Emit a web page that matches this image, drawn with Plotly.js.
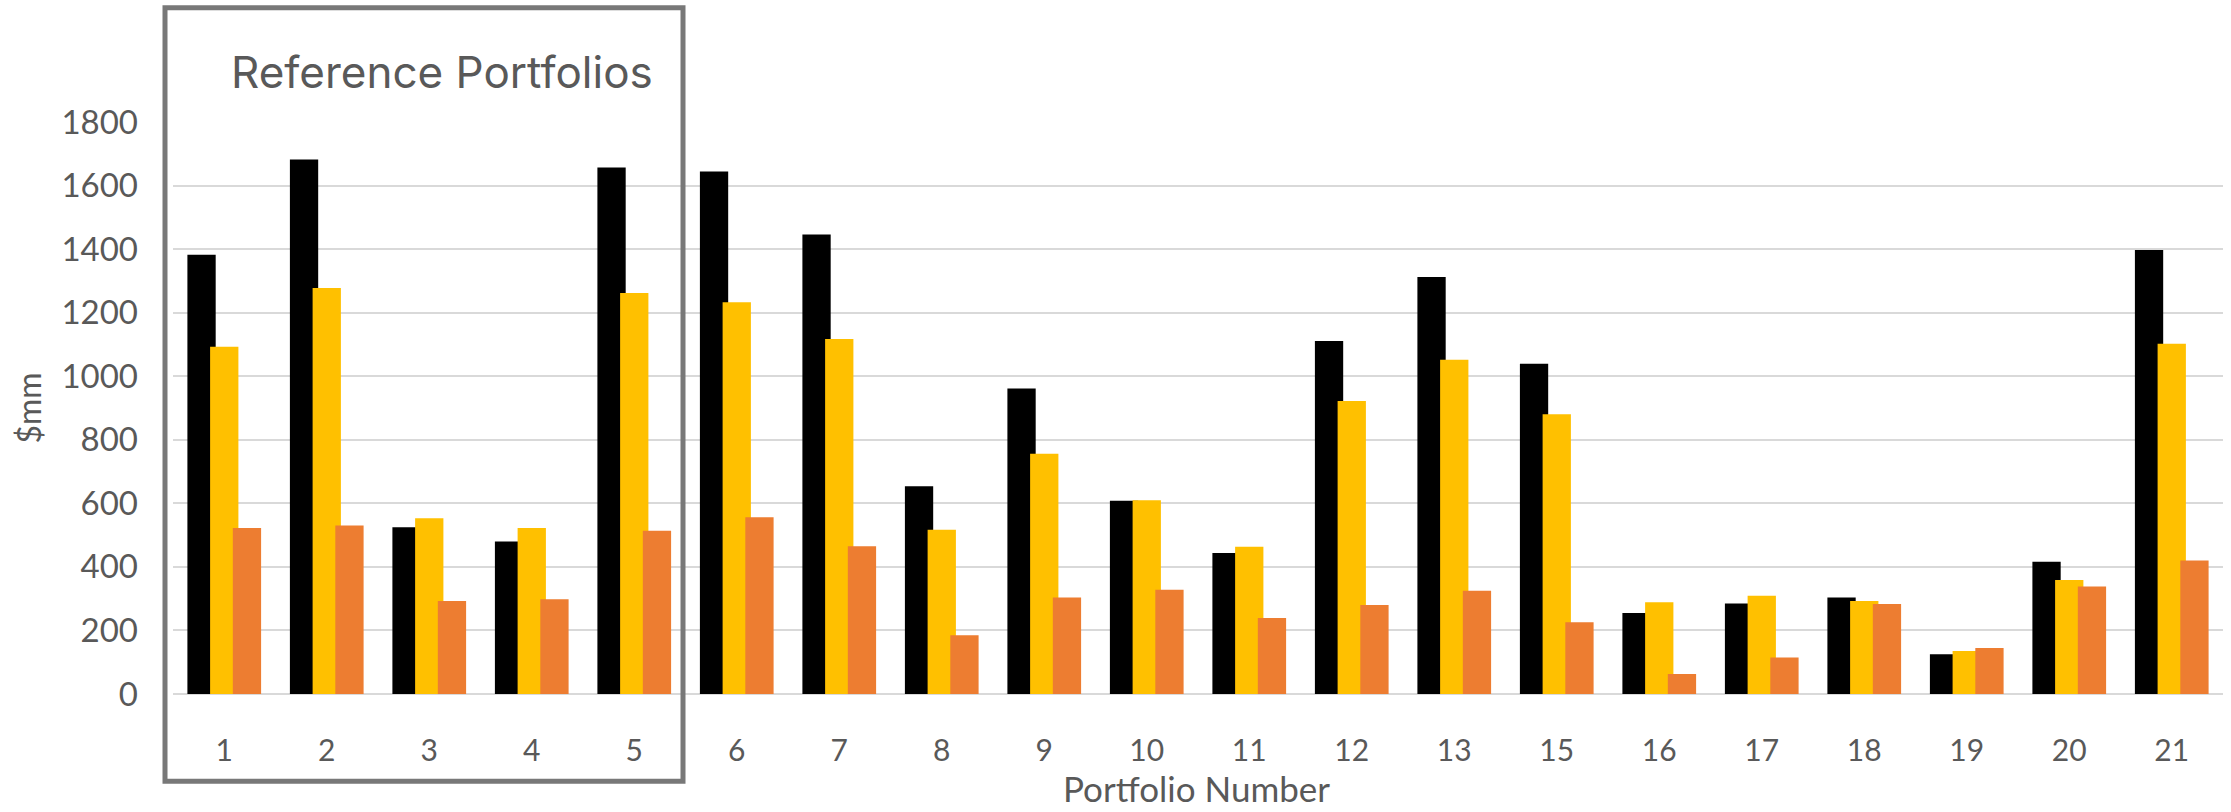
<!DOCTYPE html>
<html>
<head>
<meta charset="utf-8">
<script src="https://cdn.plot.ly/plotly-3.0.1.min.js"></script>
<style>
  html, body { margin: 0; padding: 0; background: #ffffff; }
  #chart { width: 2231px; height: 812px; }
</style>
</head>
<body>
<div id="chart"></div>
<script>
// Category labels (portfolio numbers; note 14 is absent)
const portfolios = ['1','2','3','4','5','6','7','8','9','10','11','12','13','15','16','17','18','19','20','21'];

// Series values ($mm)
const seriesBlack  = [1382, 1682, 525, 480, 1657, 1644, 1446, 654, 961, 608, 444, 1111, 1312, 1039, 255, 285, 304, 125, 416, 1397];
const seriesYellow = [1093, 1278, 553, 522, 1262, 1233, 1117, 517, 756, 610, 463,  922, 1052,  880, 289, 309, 293, 135, 359, 1102];
const seriesOrange = [ 522,  530, 293, 298,  514,  556,  465, 185, 304, 328, 239,  280,  325,  226,  63, 115, 283, 145, 338,  420];

// Y tick values
const yTicks = [0, 200, 400, 600, 800, 1000, 1200, 1400, 1600, 1800];

const W = 2231, H = 812;
const margin = { l: 173, r: 8, t: 121.5, b: 117.5 };
const plotW = W - margin.l - margin.r;
const plotH = H - margin.t - margin.b;

// Excel-style overlapped clustered bars (20% overlap)
const barW = 0.276;
const step = 0.2215;
const start = -(2 * step + barW) / 2;

function barTrace(name, values, color, idx) {
  return {
    type: 'bar',
    name: name,
    x: portfolios,
    y: values,
    width: barW,
    offset: start + idx * step,
    marker: { color: color, line: { width: 0 } },
    hoverinfo: 'x+y+name'
  };
}

const data = [
  barTrace('Series 1', seriesBlack,  '#000000', 0),
  barTrace('Series 2', seriesYellow, '#FFC000', 1),
  barTrace('Series 3', seriesOrange, '#ED7D31', 2)
];

function px2paperX(px) { return (px - margin.l) / plotW; }
function px2paperY(py) { return (H - margin.b - py) / plotH; }

const layout = {
  width: W,
  height: H,
  margin: margin,
  paper_bgcolor: '#ffffff',
  plot_bgcolor: '#ffffff',
  barmode: 'overlay',
  showlegend: false,
  font: { family: 'Lato, "Open Sans", sans-serif', color: '#595959' },
  xaxis: {
    type: 'category',
    categoryorder: 'array',
    categoryarray: portfolios,
    showgrid: false,
    showline: false,
    zeroline: false,
    ticks: '',
    ticklabelstandoff: 36,
    tickfont: { family: 'Lato, sans-serif', size: 30, color: '#595959' },
    fixedrange: true
  },
  yaxis: {
    range: [0, 1800],
    tickvals: yTicks,
    ticktext: yTicks.map(String),
    showgrid: true,
    gridcolor: '#d9d9d9',
    gridwidth: 2,
    zeroline: true,
    zerolinecolor: '#d9d9d9',
    zerolinewidth: 2,
    showline: false,
    ticks: '',
    ticklabelstandoff: 34,
    tickfont: { family: 'Lato, sans-serif', size: 33, color: '#595959' },
    title: { text: '$mm', font: { family: 'Lato, sans-serif', size: 32, color: '#595959' }, standoff: 10 },
    fixedrange: true
  },
  shapes: [
    {
      type: 'rect',
      xref: 'paper', yref: 'paper',
      x0: px2paperX(165), x1: px2paperX(683),
      y0: px2paperY(782), y1: px2paperY(7),
      line: { color: '#787878', width: 5 },
      fillcolor: 'rgba(0,0,0,0)',
      layer: 'above'
    }
  ],
  annotations: [
    {
      text: 'Reference Portfolios',
      xref: 'paper', yref: 'paper',
      x: px2paperX(442), y: px2paperY(71),
      xanchor: 'center', yanchor: 'middle',
      showarrow: false,
      font: { family: 'Inter, "Open Sans", sans-serif', size: 44, color: '#595959' }
    },
    {
      text: 'Portfolio Number',
      xref: 'paper', yref: 'paper',
      x: px2paperX(1196), y: px2paperY(810),
      xanchor: 'center', yanchor: 'bottom',
      borderpad: 0, borderwidth: 0,
      showarrow: false,
      font: { family: 'Lato, sans-serif', size: 35, color: '#595959' }
    }
  ]
};

Plotly.newPlot('chart', data, layout, { displayModeBar: false, staticPlot: true });
</script>
</body>
</html>
